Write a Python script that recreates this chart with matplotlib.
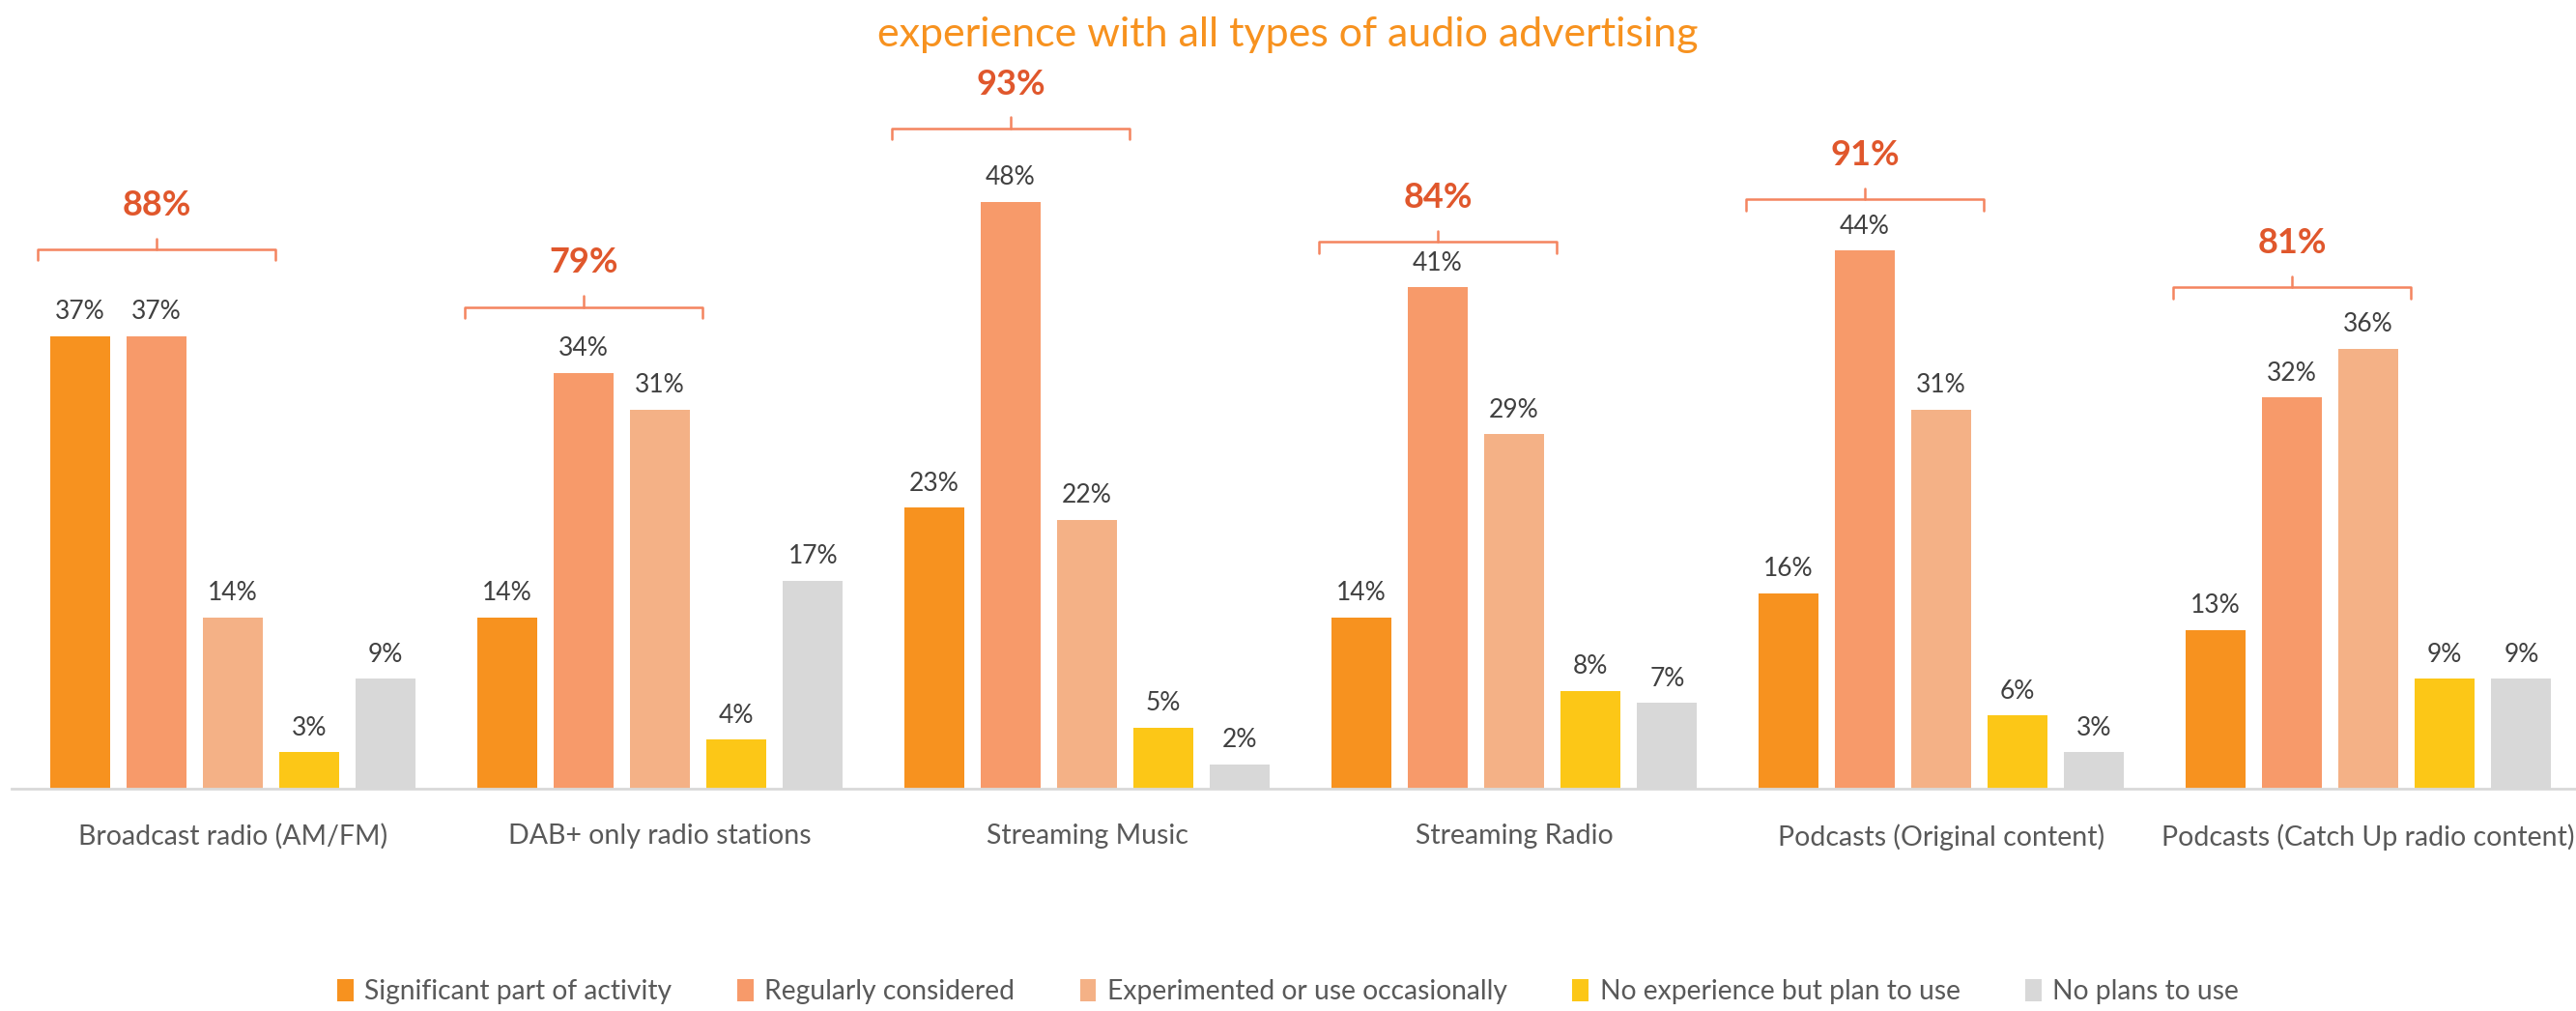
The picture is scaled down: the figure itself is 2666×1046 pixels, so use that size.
import matplotlib.pyplot as plt
import numpy as np

categories = ['Broadcast radio (AM/FM)', 'DAB+ only radio stations', 'Streaming Music',
              'Streaming Radio', 'Podcasts (Original content)', 'Podcasts (Catch Up radio content)']
series_names = ['Significant part of activity', 'Regularly considered',
                'Experimented or use occasionally', 'No experience but plan to use', 'No plans to use']
significant = [37, 14, 23, 14, 16, 13]
regularly = [37, 34, 48, 41, 44, 32]
experimented = [14, 31, 22, 29, 31, 36]
plan_to_use = [3, 4, 5, 8, 6, 9]
no_plans = [9, 17, 2, 7, 3, 9]
totals = [88, 79, 93, 84, 91, 81]

colors = ['#F7921F', '#F79A6A', '#F4B186', '#FCC717', '#D8D8D8']
bracket_y = [44.1, 39.4, 54.0, 44.7, 48.2, 41.0]   # height of each group's brace

plt.rcParams['font.family'] = ['Lato', 'DejaVu Sans']

fig = plt.figure(figsize=(26.66, 10.46), dpi=100)
ax = fig.add_axes([0.0045, 0.2199, 0.9955, 0.7801])

step = 0.179
width = 0.14
x = np.arange(len(categories))
all_series = [significant, regularly, experimented, plan_to_use, no_plans]

for j, vals in enumerate(all_series):
    pos = x + (j - 2) * step
    bars = ax.bar(pos, vals, width, color=colors[j], label=series_names[j], zorder=2)
    for b, v in zip(bars, vals):
        ax.annotate(f'{v}%', (b.get_x() + b.get_width() / 2, v), xytext=(0, 9),
                    textcoords='offset points', ha='center', va='bottom',
                    fontsize=19, color='#404040')

# braces over the first three series with their combined share
for i in range(len(categories)):
    x0 = x[i] - 2 * step - width / 2 - 0.03
    x1 = x[i] + width / 2 + 0.03
    xm = (x0 + x1) / 2
    yb = bracket_y[i]
    ax.plot([x0, x0, x1, x1], [yb - 0.9, yb, yb, yb - 0.9], color='#F4845F', lw=1.8,
            solid_joinstyle='round', solid_capstyle='round')
    ax.plot([xm, xm], [yb, yb + 0.9], color='#F4845F', lw=1.8, solid_capstyle='round')
    ax.text(xm, yb + 2.3, f'{totals[i]}%', ha='center', va='bottom', fontsize=26,
            fontweight='bold', color='#E0572C')

ax.set_xlim(-0.518, 5.486)
ax.set_ylim(0, 64.5)
ax.set_xticks(x)
ax.set_xticklabels(categories, fontsize=20.5, color='#595959')
ax.tick_params(axis='x', length=0, pad=26)
ax.set_yticks([])
for s in ['top', 'right', 'left']:
    ax.spines[s].set_visible(False)
ax.spines['bottom'].set_color('#D9D9D9')
ax.spines['bottom'].set_linewidth(2)

fig.text(0.5, 0.966, 'experience with all types of audio advertising', ha='center', va='center',
         fontsize=31, color='#F7921F')

fig.legend(loc='lower center', bbox_to_anchor=(0.5, -0.018), ncol=5, frameon=False,
           prop={'size': 20.3}, labelcolor='#595959', handlelength=0.6, handleheight=0.9,
           handletextpad=0.4, columnspacing=2.4)

fig.savefig('out.png', dpi=100)
